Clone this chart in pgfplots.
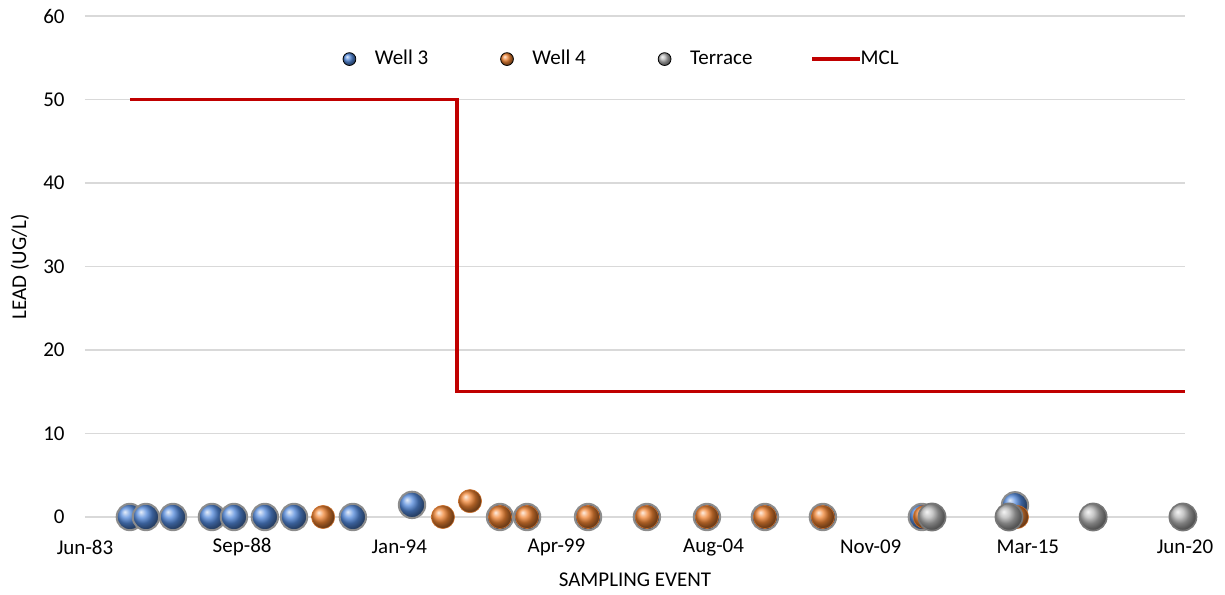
\documentclass[border=0pt]{standalone}
\usepackage{pgfplots}
\pgfplotsset{compat=1.18}
\usepackage{pgfplotstable}
\usepackage{fontspec}
\setmainfont{Carlito}
\usetikzlibrary{plotmarks}
\definecolor{w3}{HTML}{5288DA}
\definecolor{w4}{HTML}{F08433}
\definecolor{ter}{HTML}{B4B4B4}
\definecolor{mcl}{HTML}{C00000}
\definecolor{gridc}{HTML}{D9D9D9}
\definecolor{ringc}{HTML}{8C8C8C}

\pgfplotstableread{
x y
1984.92 0
1985.46 0
1986.37 0
1987.68 0
1988.42 0
1989.46 0
1990.44 0
1992.42 0
1994.41 1.45
1997.37 0
1998.28 0
2000.33 0
2002.31 0
2004.33 0
2006.28 0
2008.23 0
2011.56 0
2014.69 1.4
}\wellthree

\pgfplotstableread{
x y
1991.42 0
1995.45 0
1996.36 1.9
1997.37 0
1998.28 0
2000.33 0
2002.31 0
2004.33 0
2006.28 0
2008.23 0
2011.66 0
2014.76 0
}\wellfour

\pgfplotstableread{
x y
2011.90 0
2014.49 0
2017.32 0
2020.34 0
}\terrace

\pgfplotstableread{
x y
1984.92 50
1995.92 50
1995.92 15
2020.41 15
}\mcl

\begin{document}
\fontsize{10.5}{12.6}\selectfont
\begin{tikzpicture}
\useasboundingbox (-42.5pt,-38.5pt) rectangle (570pt,258.5pt);
\begin{axis}[
  at={(0,0)}, anchor=south west,
  scale only axis, width=550pt, height=250.5pt,
  clip=false,
  xmin=1983.41, xmax=2020.41,
  ymin=0, ymax=60,
  xtick={1983.41,1988.696,1993.981,1999.267,2004.553,2009.839,2015.124,2020.41},
  xticklabels={Jun-83,Sep-88,Jan-94,Apr-99,Aug-04,Nov-09,Mar-15,Jun-20},
  ytick={0,10,20,30,40,50,60},
  /pgf/number format/assume math mode=true,
  axis line style={draw=none},
  ymajorgrids, grid style={gridc, line width=0.75pt},
  major tick length=0pt,
  tick style={draw=none},
  tick label style={font=\fontsize{10.5}{12.6}\selectfont, text=black},
  xticklabel style={anchor=center, yshift=-15pt},
  yticklabel style={anchor=east, inner sep=0pt, xshift=-10pt},
  xlabel={SAMPLING EVENT},
  ylabel={LEAD (UG/L)},
  xlabel style={at={(axis description cs:0.5,-0.1257)}, anchor=center, font=\fontsize{10.5}{12.6}\selectfont},
  ylabel style={at={(axis description cs:-0.0591,0.5)}, anchor=center, font=\fontsize{10.5}{12.6}\selectfont},
  legend columns=4,
  legend style={at={(axis description cs:0.2342,0.914)}, anchor=west, draw=none, fill=none,
    inner sep=0pt, outer sep=0pt,
    font=\fontsize{10.5}{12.6}\selectfont,
    /tikz/every even column/.append style={column sep=34pt}},
  legend cell align=left,
]
% Well 3
\addplot[only marks, mark=ball, mark size=6.6pt, mark options={ball color=w3, draw=ringc, line width=1pt},
  legend image code/.code={\path (0pt,0pt) (13.7pt,0pt); \shade[ball color=w3] (3.2pt,0pt) circle (3.2pt);}] table {\wellthree};
\addlegendentry{Well 3}
% Well 4
\addplot[only marks, mark=ball, mark size=5.8pt, mark options={ball color=w4, draw=w4!85!black, line width=0.3pt},
  legend image code/.code={\path (0pt,0pt) (13.7pt,0pt); \shade[ball color=w4] (3.2pt,0pt) circle (3.2pt);}] table {\wellfour};
\addlegendentry{Well 4}
% Terrace
\addplot[only marks, mark=ball, mark size=6.8pt, mark options={ball color=ter, draw=ringc!85!black, line width=0.8pt},
  legend image code/.code={\path (0pt,0pt) (13.7pt,0pt); \shade[ball color=ter] (3.2pt,0pt) circle (3.2pt);}] table {\terrace};
\addlegendentry{Terrace}
% MCL
\addplot[mcl, line width=1.6pt, mark=none,
  legend image code/.code={\path (0pt,0pt) (14.5pt,0pt); \draw[overlay, mcl, line width=1.6pt] (-7pt,0pt) -- (17pt,0pt);}] table {\mcl};
\addlegendentry{MCL}
\end{axis}
\end{tikzpicture}
\end{document}
